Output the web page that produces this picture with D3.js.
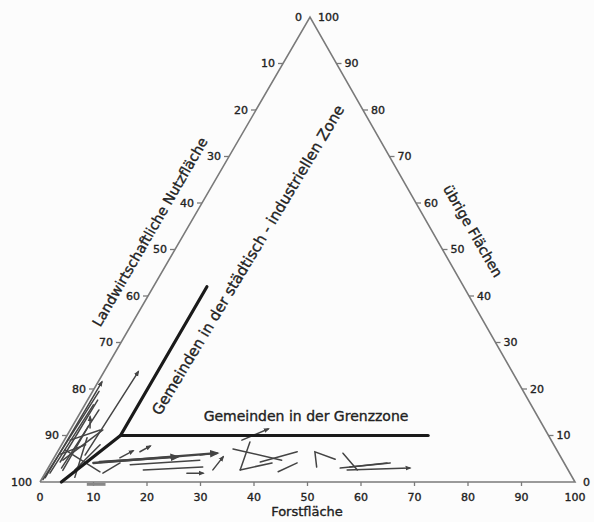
<!DOCTYPE html>
<html>
<head>
<meta charset="utf-8">
<script src="https://cdn.jsdelivr.net/npm/d3@7"></script>
<style>
  body { margin: 0; background: #fcfcfc; }
  svg { display: block; }
  text { font-family: "DejaVu Sans", sans-serif; fill: #222; stroke: #222; stroke-width: 0.35px; }
</style>
</head>
<body>
<svg class="canvas" width="594" height="522"></svg>
<script>
// ternary axes: Forstfläche (bottom), übrige Flächen (right), Landwirtschaftliche Nutzfläche (left)
const tickValues = [0, 10, 20, 30, 40, 50, 60, 70, 80, 90, 100];

const axisTitles = {
  forest: "Forstfläche",
  agri: "Landwirtschaftliche Nutzfläche",
  other: "übrige Flächen",
};

// zone boundaries, points as [forest %, other %]
const urbanZone = [[4, 0], [10, 10], [10, 42]];
const borderZone = [[10, 10], [67.5, 10]];
const urbanLabel = "Gemeinden in der städtisch - industriellen Zone";
const borderLabel = "Gemeinden in der Grenzzone";

// development paths of single municipalities, [forest %, other %]
const trails = [
  [[0.5, 0.9], [0.7, 21.5]],
  [[0.9, 1.9], [1.6, 16.6]],
  [[5.5, 5.8], [6.4, 23.7]],
  [[3.5, 11.6], [2.3, 14.0]],
  [[1.9, 4.7], [6.1, 11.2]],
  [[1.2, 6.9], [10.1, 2.2]],
  [[1.1, 9.0], [5.6, 11.2]],
  [[5.2, 2.6], [7.2, 8.0]],
  [[1.6, 4.3], [1.9, 17.6]],
  [[7.9, 4.1], [29.9, 6.2]],
  [[9.0, 4.3], [22.9, 5.4]],
  [[18.0, 2.6], [28.8, 3.2]],
  [[26.5, 1.9], [29.5, 1.9]],
  [[12.3, 5.2], [14.0, 6.7]],
  [[15.4, 6.5], [16.7, 7.7]],
  [[10.8, 1.9], [12.9, 4.1]],
  [[15.0, 3.7], [27.5, 4.7]],
  [[33.2, 9.0], [36.9, 11.4]],
  [[32.5, 7.1], [42.8, 4.7]],
  [[34.9, 8.6], [36.1, 2.6]],
  [[36.1, 2.6], [41.3, 4.1]],
  [[39.0, 4.3], [44.8, 6.5]],
  [[43.4, 2.2], [46.0, 4.1]],
  [[27.0, 5.8], [29.2, 6.2]],
  [[31.0, 2.6], [31.5, 5.4]],
  [[50.1, 3.2], [48.1, 6.5], [52.7, 4.9]],
  [[53.5, 6.2], [58.0, 2.6]],
  [[54.6, 3.0], [63.4, 4.1]],
  [[56.1, 2.6], [67.6, 3.0]],
  [[56.3, 3.2], [62.8, 4.1]],
  [[0.3, 0.5], [1.2, 19.5]],
  [[2.5, 3.0], [3.2, 15.5]],
  [[0.8, 6.0], [4.5, 8.0]],
  [[3.0, 2.5], [3.0, 12.0]],
  [[6.0, 1.0], [4.0, 9.5]],
];
const arrowTrails = [0, 2, 3, 9, 10, 12, 13, 14, 17, 24, 28];
const wideTrails = [9, 10];
const belowAxisMark = [[9.0, -0.5], [12.5, -0.5]];

var svg = d3.select(".canvas");

var BL = [40, 482];
var BR = [575, 482];
var TOP = [310, 17];

var forestX = d3.scaleLinear().domain([0, 100]).range([0, BR[0] - BL[0]]);
var otherX = d3.scaleLinear().domain([0, 100]).range([0, TOP[0] - BL[0]]);
var otherY = d3.scaleLinear().domain([0, 100]).range([BL[1], TOP[1]]);

const project = ([f, o]) => [BL[0] + forestX(f) + otherX(o), otherY(o)];
const line = d3.line().x(d => project(d)[0]).y(d => project(d)[1]);

svg.append("defs")
  .append("marker")
  .attr("id", "arrow")
  .attr("viewBox", "-5 -5 10 10")
  .attr("markerWidth", 4)
  .attr("markerHeight", 4)
  .attr("refX", 2)
  .attr("refY", 0)
  .attr("orient", "auto")
  .append("path")
  .attr("d", "M -5,-4 L 5,0 L -5,4 Z")
  .attr("fill", "#444");

// triangle frame
svg.append("path")
  .attr("d", line([[0, 0], [100, 0], [0, 100], [0, 0]]))
  .attr("fill", "none")
  .attr("stroke", "#7a7a7a")
  .attr("stroke-width", 1.6)
  .attr("stroke-linejoin", "miter");

// bottom axis
var bottom = svg.append("g").attr("class", "axis-bottom");
bottom.selectAll("line")
  .data(tickValues.slice(1, -1))
  .enter()
  .append("line")
  .attr("x1", d => project([d, 0])[0])
  .attr("x2", d => project([d, 0])[0])
  .attr("y1", BL[1])
  .attr("y2", BL[1] + 4)
  .attr("stroke", "#7a7a7a")
  .attr("stroke-width", 1.3);
bottom.selectAll("text")
  .data(tickValues)
  .enter()
  .append("text")
  .attr("x", d => project([d, 0])[0])
  .attr("y", BL[1] + 19)
  .attr("text-anchor", "middle")
  .attr("font-size", 11)
  .text(d => d);

// left axis (agricultural share, 100 at bottom left)
var left = svg.append("g").attr("class", "axis-left");
left.selectAll("line")
  .data(tickValues.slice(1, -1))
  .enter()
  .append("line")
  .attr("x1", d => project([0, 100 - d])[0] - 5)
  .attr("x2", d => project([0, 100 - d])[0])
  .attr("y1", d => project([0, 100 - d])[1])
  .attr("y2", d => project([0, 100 - d])[1])
  .attr("stroke", "#7a7a7a")
  .attr("stroke-width", 1.3);
left.selectAll("text")
  .data(tickValues)
  .enter()
  .append("text")
  .attr("x", d => project([0, 100 - d])[0] - 8)
  .attr("y", d => project([0, 100 - d])[1])
  .attr("dy", "0.35em")
  .attr("text-anchor", "end")
  .attr("font-size", 11)
  .text(d => d);

// right axis (other land, 0 at bottom right)
var right = svg.append("g").attr("class", "axis-right");
right.selectAll("line")
  .data(tickValues.slice(1, -1))
  .enter()
  .append("line")
  .attr("x1", d => project([100 - d, d])[0])
  .attr("x2", d => project([100 - d, d])[0] + 5)
  .attr("y1", d => project([100 - d, d])[1])
  .attr("y2", d => project([100 - d, d])[1])
  .attr("stroke", "#7a7a7a")
  .attr("stroke-width", 1.3);
right.selectAll("text")
  .data(tickValues)
  .enter()
  .append("text")
  .attr("x", d => project([100 - d, d])[0] + 8)
  .attr("y", d => project([100 - d, d])[1])
  .attr("dy", "0.35em")
  .attr("text-anchor", "start")
  .attr("font-size", 11)
  .text(d => d);

// axis titles
svg.append("text")
  .attr("x", 307)
  .attr("y", 516)
  .attr("text-anchor", "middle")
  .attr("font-size", 13)
  .text(axisTitles.forest);

svg.append("text")
  .attr("transform", "translate(150,232) rotate(-60)")
  .attr("text-anchor", "middle")
  .attr("dy", "0.35em")
  .attr("font-size", 14)
  .text(axisTitles.agri);

svg.append("text")
  .attr("transform", "translate(473,231) rotate(60)")
  .attr("text-anchor", "middle")
  .attr("dy", "0.35em")
  .attr("font-size", 14)
  .text(axisTitles.other);

// municipality paths
svg.append("g")
  .attr("class", "trails")
  .selectAll("path")
  .data(trails)
  .enter()
  .append("path")
  .attr("d", d => line(d))
  .attr("fill", "none")
  .attr("stroke", "#444")
  .attr("stroke-width", (d, i) => wideTrails.includes(i) ? 2.4 : 1.5)
  .attr("stroke-linecap", "round")
  .attr("marker-end", (d, i) => arrowTrails.includes(i) ? "url(#arrow)" : null);

svg.append("path")
  .attr("d", line(belowAxisMark))
  .attr("stroke", "#888")
  .attr("stroke-width", 3);

// zone borders
svg.append("path")
  .attr("d", line(urbanZone))
  .attr("fill", "none")
  .attr("stroke", "#1a1a1a")
  .attr("stroke-width", 3.2)
  .attr("stroke-linejoin", "round")
  .attr("stroke-linecap", "round");

svg.append("path")
  .attr("d", line(borderZone))
  .attr("fill", "none")
  .attr("stroke", "#1a1a1a")
  .attr("stroke-width", 3.2)
  .attr("stroke-linecap", "round");

svg.append("text")
  .attr("transform", "translate(248,260) rotate(-59)")
  .attr("text-anchor", "middle")
  .attr("dy", "0.35em")
  .attr("font-size", 15)
  .text(urbanLabel);

svg.append("text")
  .attr("x", 306)
  .attr("y", 421)
  .attr("text-anchor", "middle")
  .attr("font-size", 14)
  .text(borderLabel);
</script>
</body>
</html>
